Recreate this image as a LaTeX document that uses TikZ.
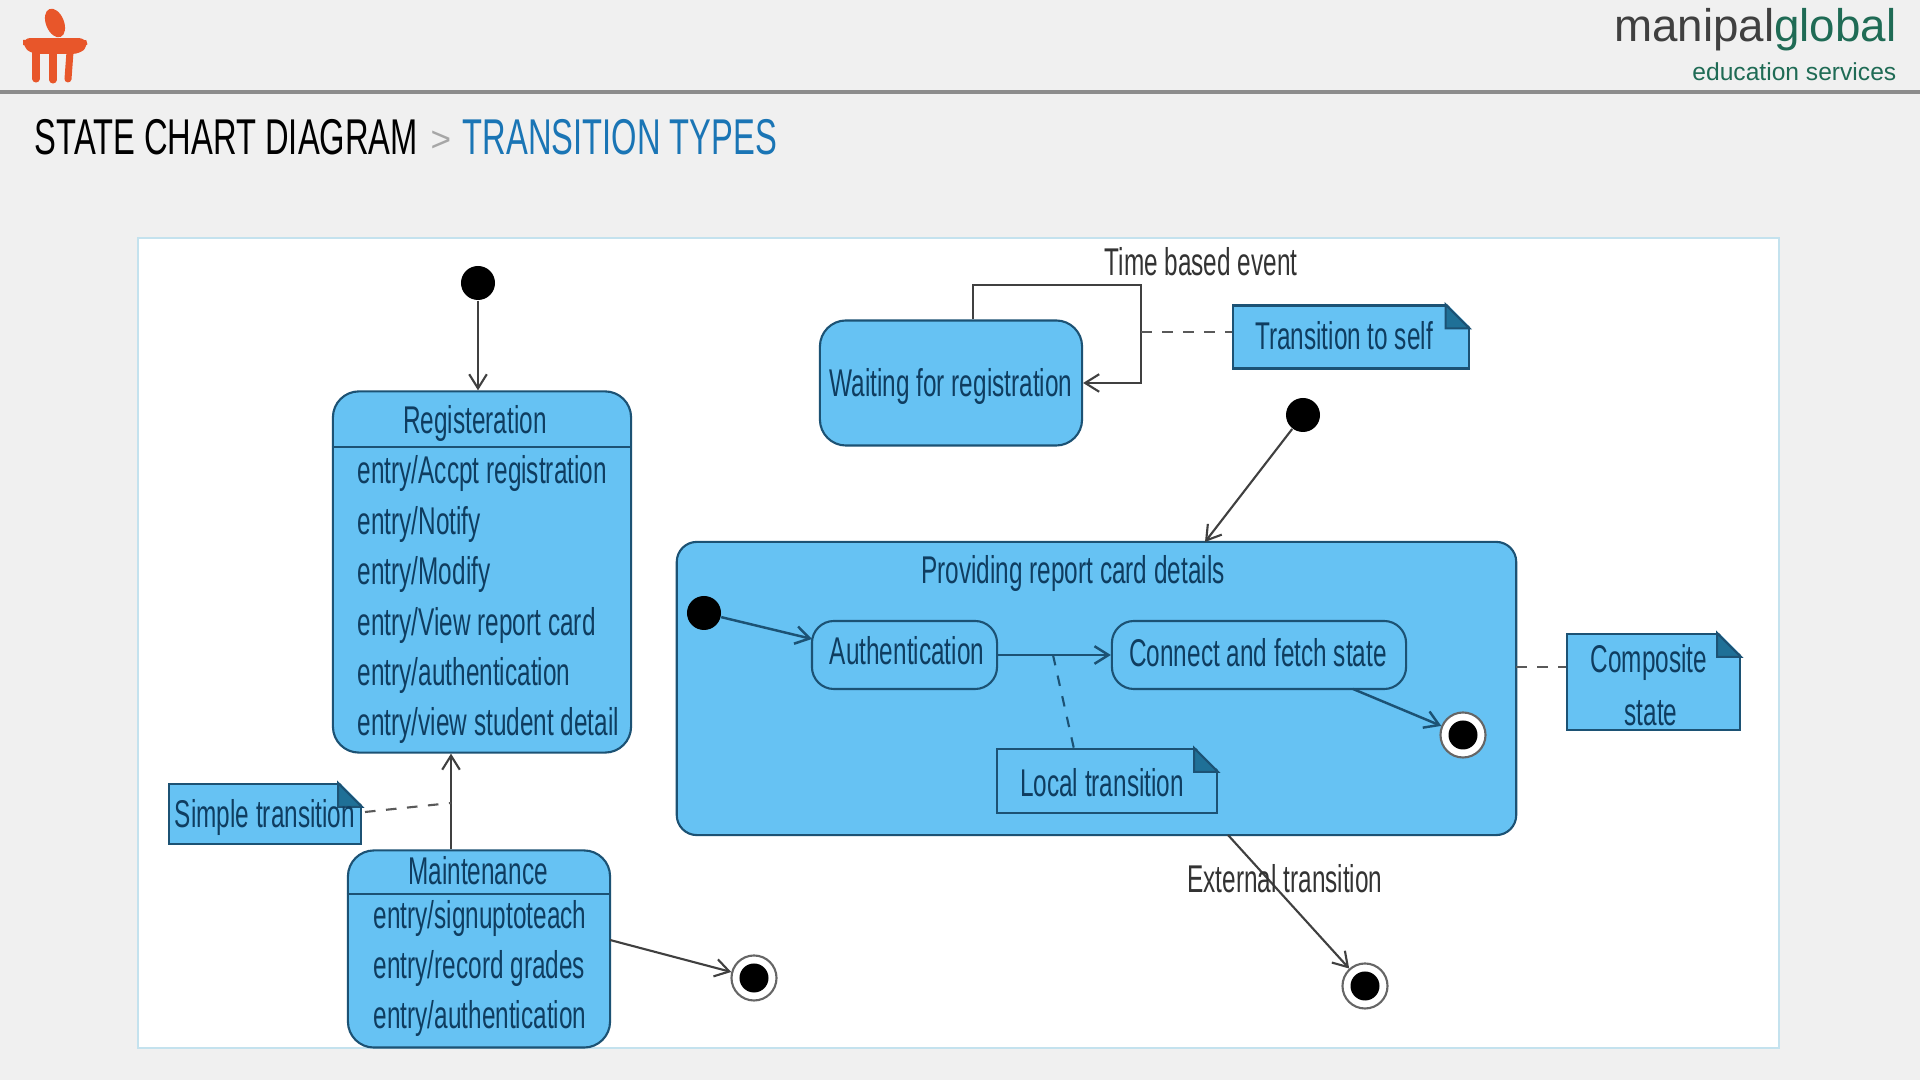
\documentclass[tikz,border=0pt]{standalone}
\usepackage{fontspec}
\setmainfont{Liberation Sans}[FakeStretch=0.63]
\newfontfamily\logofont{Liberation Sans}
\newfontfamily\headfont{Liberation Sans}[FakeStretch=0.65]
\usetikzlibrary{calc,arrows.meta}
\definecolor{statefill}{HTML}{66C2F3}
\definecolor{stateline}{HTML}{1C5274}
\definecolor{statetext}{HTML}{0F3D60}
\definecolor{foldfill}{HTML}{1F7097}
\definecolor{pagegray}{HTML}{F0F0F0}
\definecolor{panelline}{HTML}{C4E2EE}
\definecolor{logoorange}{HTML}{E8562A}
\definecolor{logogreen}{HTML}{1F6B55}
\definecolor{headblue}{HTML}{1A75B5}
\tikzset{
  statebox/.style={draw=stateline, fill=statefill, line width=0.6pt, rounded corners=0.26cm, inner sep=0pt},
  notebox/.style={draw=stateline, fill=statefill, line width=0.6pt, inner sep=0pt},
  entrytext/.style={anchor=west, inner sep=0pt, text=statetext, font=\fontsize{11}{13}\selectfont},
  titletext/.style={inner sep=0pt, text=statetext, font=\fontsize{11}{13}\selectfont},
  plaintext/.style={inner sep=0pt, text=black!80, font=\fontsize{11}{13}\selectfont},
  startdot/.style={circle, fill=black, inner sep=0pt, minimum size=0.34cm},
  enddot/.style={circle, draw=black!60, fill=white, line width=0.6pt, inner sep=0pt, minimum size=0.45cm},
  endcore/.style={circle, fill=black, inner sep=0pt, minimum size=0.29cm},
  flow/.style={draw=black!75, line width=0.6pt, -{Straight Barb[length=4pt,width=5pt]}},
  innerflow/.style={draw=stateline, line width=0.7pt, -{Straight Barb[length=4pt,width=5pt]}},
  notelink/.style={draw=black!65, line width=0.6pt, dashed},
}
% corner of a note: name, colour behind it
\newcommand{\notefold}[2]{
  \path[fill=#2]($(#1.north east)+(-24,-2)$)--($(#1.north east)+(2,-2)$)--($(#1.north east)+(2,24)$)--cycle;
  \path[draw=stateline, fill=foldfill, line width=0.6pt]($(#1.north east)+(-24,0)$)--($(#1.north east)+(0,24)$)--($(#1.north east)+(-24,24)$)--cycle;
}
\begin{document}
\begin{tikzpicture}[x=0.01cm,y=-0.01cm]
    \useasboundingbox(0,0)rectangle(1920,1080);
    % page
    \path[fill=pagegray](0,0)rectangle(1920,1080);
    \path[draw=black!45, line width=1pt](0,92)to(1920,92);
    % logo
    \path[fill=logoorange, rotate around={22:(55,23)}](55,23)ellipse(9 and 15);
    \path[draw=logoorange, line width=0.5pt, fill=logoorange, rounded corners=0.06cm](24,39)--(85,39)--(87,46)--(79,53)--(32,53)--(24,46)--cycle;
    \path[draw=logoorange, line width=2pt, line cap=round](36,52)to(36,79);
    \path[draw=logoorange, line width=2pt, line cap=round](53,52)to(53,80);
    \path[draw=logoorange, line width=2pt, line cap=round](70,52)to(68,79);
    \node[anchor=east, inner sep=0pt, font=\logofont\fontsize{13}{16}\selectfont](brand)at(1897,30){\textcolor{black!75}{manipal}\textcolor{logogreen}{global}};
    \node[anchor=east, inner sep=0pt, text=logogreen, font=\logofont\fontsize{7}{10}\selectfont](brandsub)at(1897,72){education services};
    % heading
    \node[anchor=west, inner sep=0pt, text=black, font=\headfont\fontsize{14.3}{16}\selectfont](headA)at(34,137){STATE CHART DIAGRAM};
    \node[inner sep=0pt, text=black!35, font=\logofont\fontsize{10}{13}\selectfont](headB)at(441,141){>};
    \node[anchor=west, inner sep=0pt, text=headblue, font=\headfont\fontsize{14.3}{16}\selectfont](headC)at(462,137){TRANSITION TYPES};
    % panel
    \path[draw=panelline, line width=0.6pt, fill=white](138,238)rectangle(1779,1048);
    % registration
    \node[startdot](startA)at(478,283){};
    \node[statebox, minimum width=2.98cm, minimum height=3.61cm](reg)at(482,572){};
    \path[draw=stateline, line width=0.6pt](reg.west|-0,447)to(reg.east|-0,447);
    \node[titletext](regT)at(475,424){Registeration};
    \node[entrytext](regA)at(357,474){entry/Accpt registration};
    \node[entrytext](regB)at(357,525){entry/Notify};
    \node[entrytext](regC)at(357,575){entry/Modify};
    \node[entrytext](regD)at(357,626){entry/View report card};
    \node[entrytext](regE)at(357,676){entry/authentication};
    \node[entrytext](regF)at(357,726){entry/view student detail};
    \path[flow](startA)to(startA|-reg.north);
    % maintenance
    \node[statebox, minimum width=2.62cm, minimum height=1.97cm](maint)at(479,949){};
    \path[draw=stateline, line width=0.6pt](maint.west|-0,894)to(maint.east|-0,894);
    \node[titletext](maintT)at(478,871){Maintenance};
    \node[entrytext](maintA)at(373,919){entry/signuptoteach};
    \node[entrytext](maintB)at(373,969){entry/record grades};
    \node[entrytext](maintC)at(373,1019){entry/authentication};
    \coordinate(simple)at(451,803);
    \path[flow](maint.north-|simple)to(reg.south-|simple);
    \node[enddot](endA)at(754,978){};
    \node[endcore](endAc)at(endA){};
    \coordinate(maintOut)at(610,940);
    \path[flow](maintOut)to(endA);
    % simple transition
    \node[notebox, minimum width=1.92cm, minimum height=0.6cm](noteS)at(265,814){};
    \notefold{noteS}{white}
    \node[titletext](noteST)at(265,818){Simple transition};
    \coordinate(noteSout)at(365,812);
    \path[notelink](noteSout)to(simple);
    % waiting
    \node[statebox, minimum width=2.62cm, minimum height=1.25cm](wait)at(951,383){};
    \node[titletext](waitT)at(951,387){Waiting for registration};
    \coordinate(loopA)at(973,285);
    \coordinate(loopB)at(1141,285);
    \coordinate(loopC)at(1141,383);
    \path[flow](loopA|-wait.north)to(loopA)to(loopB)to(loopC)to(wait.east);
    \node[plaintext](timed)at(1201,262){Time based event};
    \node[notebox, minimum width=2.35cm, minimum height=0.63cm](noteT)at(1351,337){};
    \notefold{noteT}{white}
    \node[titletext](noteTT)at(1344,336){Transition to self};
    \coordinate(loopD)at(1141,332);
    \path[notelink](loopD)to(noteT.west|-loopD);
    % composite
    \node[startdot](startB)at(1303,415){};
    \node[statebox, rounded corners=0.2cm, minimum width=8.39cm, minimum height=2.93cm](comp)at(1096.5,688.5){};
    \coordinate(compIn)at(1205,542);
    \path[flow](startB)to(compIn);
    \node[titletext](compT)at(1073,574){Providing report card details};
    \node[startdot](startC)at(704,613){};
    \node[statebox, minimum width=1.85cm, minimum height=0.68cm, rounded corners=0.22cm](auth)at(904.5,655){};
    \node[titletext](authT)at(907,651){Authentication};
    \node[statebox, minimum width=2.94cm, minimum height=0.68cm, rounded corners=0.22cm](fetch)at(1259,655){};
    \node[titletext](fetchT)at(1258,653){Connect and fetch state};
    \coordinate(authIn)at(812,639);
    \path[innerflow](startC)to(authIn);
    \path[innerflow](auth)to(fetch);
    \node[enddot](endB)at(1463,735){};
    \node[endcore](endBc)at(endB){};
    \coordinate(fetchOut)at(1353,689);
    \path[innerflow](fetchOut)to(endB);
    % local transition
    \node[notebox, minimum width=2.2cm, minimum height=0.64cm](noteL)at(1107,781){};
    \notefold{noteL}{statefill}
    \node[titletext](noteLT)at(1102,783){Local transition};
    \coordinate(localA)at(1053,655);
    \coordinate(localB)at(1074,749);
    \path[draw=stateline, line width=0.6pt, dashed](localA)to(localB);
    % composite note
    \node[notebox, minimum width=1.73cm, minimum height=0.96cm](noteC)at(1653.5,682){};
    \notefold{noteC}{white}
    \node[titletext](noteCA)at(1649,663){Composite};
    \node[titletext](noteCB)at(1651,713){state};
    \coordinate(compSide)at(1516,667);
    \path[notelink](compSide)to(noteC.west|-compSide);
    % external
    \node[enddot](endC)at(1365,986){};
    \node[endcore](endCc)at(endC){};
    \coordinate(compOut)at(1228,835);
    \path[flow](compOut)to(endC);
    \node[plaintext](external)at(1285,879){External transition};
\end{tikzpicture}
\end{document}
